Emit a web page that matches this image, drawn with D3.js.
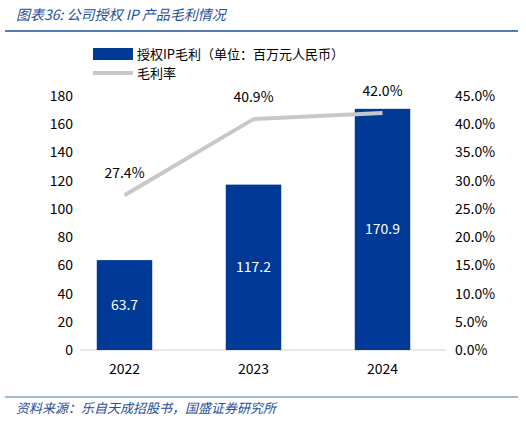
<!DOCTYPE html>
<html><head><meta charset="utf-8">
<script src="https://cdn.jsdelivr.net/npm/d3@7"></script>
<style>body{margin:0;background:#fff}svg{display:block}text{font-family:"Noto Sans CJK SC","Noto Sans",sans-serif}</style>
</head><body><svg id="c" width="526" height="421"></svg>
<script>
// chart data
const years = ['2022', '2023', '2024'];
const grossProfit = [63.7, 117.2, 170.9];
const grossMargin = [27.4, 40.9, 42.0];
const leftTicks = [0, 20, 40, 60, 80, 100, 120, 140, 160, 180];
const rightTicks = [0, 5, 10, 15, 20, 25, 30, 35, 40, 45];

const svg = d3.select('#c');
const blue = '#003a96', gray = '#c8c8c8';
const plotTop = 96, plotBottom = 350;

const x = d3.scaleBand().domain(years).range([60, 447]).paddingInner(0.57).paddingOuter(0.285);
const yL = d3.scaleLinear().domain([0, 180]).range([plotBottom, plotTop]);
const yR = d3.scaleLinear().domain([0, 45]).range([plotBottom, plotTop]);

// title + rules
svg.append('text').attr('x', 16).attr('y', 20).attr('fill', '#1f4e9c').attr('font-size', 14)
  .attr('font-style', 'italic').text('图表36:  公司授权 IP 产品毛利情况');
svg.append('line').attr('x1', 5).attr('x2', 518).attr('y1', 31).attr('y2', 31).attr('stroke', '#1f4e9c').attr('stroke-width', 1.5);

// legend
svg.append('rect').attr('x', 93).attr('y', 48).attr('width', 40).attr('height', 12).attr('fill', blue);
svg.append('text').attr('x', 137).attr('y', 59).attr('font-size', 13).text('授权IP毛利（单位：百万元人民币）');
svg.append('line').attr('x1', 93).attr('x2', 133).attr('y1', 73).attr('y2', 73).attr('stroke', gray).attr('stroke-width', 4);
svg.append('text').attr('x', 137).attr('y', 78).attr('font-size', 13).text('毛利率');

// axes
const lAx = svg.append('g').attr('transform', 'translate(76,0)')
  .call(d3.axisLeft(yL).tickValues(leftTicks).tickSize(0).tickPadding(3));
const rAx = svg.append('g').attr('transform', 'translate(452,0)')
  .call(d3.axisRight(yR).tickValues(rightTicks).tickSize(0).tickPadding(3).tickFormat(d => d.toFixed(1) + '%'));
const bAx = svg.append('g').attr('transform', `translate(0,${plotBottom})`)
  .call(d3.axisBottom(x).tickSize(0).tickPadding(14));
[lAx, rAx, bAx].forEach(g => {
  g.select('.domain').remove();
  g.selectAll('text').attr('font-size', 14).attr('fill', '#000').attr('font-family', 'Liberation Sans, Arial, sans-serif');
});
svg.append('line').attr('x1', 80).attr('x2', 446).attr('y1', plotBottom).attr('y2', plotBottom).attr('stroke', '#d0d0d0');

// bars
svg.selectAll('.bar').data(grossProfit).join('rect')
  .attr('x', (d, i) => x(years[i])).attr('width', x.bandwidth())
  .attr('y', d => yL(d)).attr('height', d => plotBottom - yL(d)).attr('fill', blue);
svg.selectAll('.bl').data(grossProfit).join('text')
  .attr('x', (d, i) => x(years[i]) + x.bandwidth() / 2).attr('y', d => (yL(d) + plotBottom) / 2 + 5)
  .attr('text-anchor', 'middle').attr('fill', '#fff').attr('font-size', 14)
  .attr('font-family', 'Liberation Sans, Arial, sans-serif').text(d => d.toFixed(1));

// margin line
const cx = (d, i) => x(years[i]) + x.bandwidth() / 2;
svg.append('path').datum(grossMargin)
  .attr('d', d3.line().x(cx).y(d => yR(d)))
  .attr('fill', 'none').attr('stroke', gray).attr('stroke-width', 4);
svg.selectAll('.ml').data(grossMargin).join('text')
  .attr('x', cx).attr('y', d => yR(d) - 17)
  .attr('text-anchor', 'middle').attr('font-size', 14)
  .attr('font-family', 'Liberation Sans, Arial, sans-serif').text(d => d.toFixed(1) + '%');

// source
svg.append('line').attr('x1', 5).attr('x2', 518).attr('y1', 397).attr('y2', 397).attr('stroke', '#1f4e9c').attr('stroke-width', 0.8);
svg.append('text').attr('x', 16).attr('y', 413).attr('fill', '#1f4e9c').attr('font-size', 13)
  .attr('font-style', 'italic').text('资料来源：乐自天成招股书，国盛证券研究所');
</script></body></html>
